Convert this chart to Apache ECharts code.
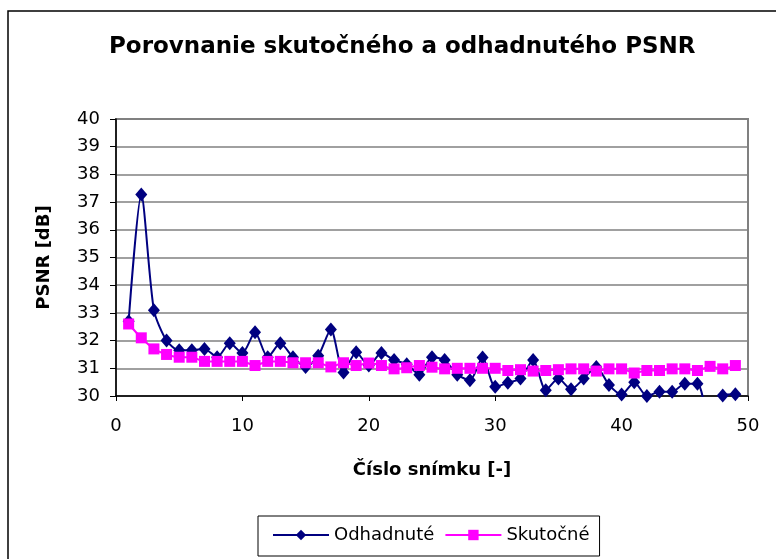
<!DOCTYPE html>
<html>
<head>
    <meta charset="UTF-8">
    <title>PSNR</title>
    <script src="https://cdn.jsdelivr.net/npm/echarts@6/dist/echarts.min.js"></script>
</head>
<body style="margin:0">
<div id="main" style="width:776px;height:559px"></div>
<script>
    var frames = [];
    for (var i = 1; i <= 49; i++) frames.push(i);

    var odhadnute = [32.7, 37.27, 33.1, 32.0, 31.65, 31.65, 31.7, 31.4, 31.9, 31.55,
        32.3, 31.4, 31.9, 31.4, 31.05, 31.45, 32.4, 30.85, 31.58, 31.1,
        31.55, 31.3, 31.15, 30.77, 31.4, 31.3, 30.77, 30.57, 31.39, 30.33,
        30.48, 30.63, 31.3, 30.21, 30.63, 30.24, 30.63, 31.05, 30.4, 30.05,
        30.5, 30.0, 30.15, 30.15, 30.44, 30.44, 29.0, 30.02, 30.06];

    var skutocne = [32.6, 32.1, 31.7, 31.5, 31.4, 31.4, 31.25, 31.25, 31.25, 31.25,
        31.1, 31.25, 31.25, 31.2, 31.2, 31.2, 31.05, 31.2, 31.1, 31.19,
        31.1, 30.98, 31.02, 31.1, 31.04, 30.98, 31.0, 31.0, 31.0, 31.0,
        30.92, 30.95, 30.9, 30.92, 30.95, 30.98, 30.98, 30.9, 30.98, 30.98,
        30.83, 30.92, 30.92, 30.98, 30.98, 30.92, 31.07, 30.98, 31.1];

    function pairs(vals) {
        return vals.map(function (v, i) { return [frames[i], v]; });
    }

    var font = 'DejaVu Sans, Liberation Sans, sans-serif';
    var myChart = echarts.init(document.getElementById('main'));

    var option = {
        backgroundColor: '#fff',
        animation: false,
        textStyle: { fontFamily: font },
        title: {
            text: 'Porovnanie skutočného a odhadnutého PSNR',
            left: 104,
            top: 31,
            textStyle: { fontSize: 23, fontWeight: 'bold', color: '#000', fontFamily: font }
        },
        graphic: [{
            type: 'rect',
            shape: { x: 8, y: 11, width: 800, height: 600 },
            style: { fill: 'none', stroke: '#000', lineWidth: 1.5 },
            z: -1
        }],
        grid: {
            left: 116, right: 28, top: 119, bottom: 163,
            show: true, borderColor: '#808080', borderWidth: 2
        },
        legend: {
            left: 258, top: 516,
            padding: [10, 10, 12, 14],
            borderColor: '#000', borderWidth: 1,
            itemWidth: 56, itemHeight: 13, itemGap: 10,
            textStyle: { fontSize: 18, color: '#000', fontFamily: font },
            data: ['Odhadnuté', 'Skutočné']
        },
        xAxis: {
            type: 'value', min: 0, max: 50, interval: 10,
            name: 'Číslo snímku [-]', nameLocation: 'middle', nameGap: 65,
            nameTextStyle: { fontSize: 18, fontWeight: 'bold', color: '#000', fontFamily: font },
            axisLine: { lineStyle: { color: '#000', width: 1.5 } },
            axisTick: { length: 5, lineStyle: { color: '#000' } },
            axisLabel: { fontSize: 18, color: '#000', margin: 21 },
            splitLine: { show: false }
        },
        yAxis: {
            type: 'value', min: 30, max: 40, interval: 1,
            name: 'PSNR [dB]', nameLocation: 'middle', nameGap: 63,
            nameTextStyle: { fontSize: 18, fontWeight: 'bold', color: '#000', fontFamily: font },
            axisLine: { show: true, lineStyle: { color: '#000', width: 1.5 } },
            axisTick: { show: true, length: 6, lineStyle: { color: '#000' } },
            axisLabel: { fontSize: 18, color: '#000', margin: 16 },
            splitLine: { lineStyle: { color: '#808080', width: 1.5 } }
        },
        series: [{
            name: 'Odhadnuté',
            type: 'line',
            smooth: 0.25,
            data: pairs(odhadnute),
            symbol: 'diamond',
            symbolSize: [12, 14],
            itemStyle: { color: '#000080' },
            lineStyle: { color: '#000080', width: 2 }
        }, {
            name: 'Skutočné',
            type: 'line',
            smooth: 0.25,
            data: pairs(skutocne),
            symbol: 'rect',
            symbolSize: 11,
            itemStyle: { color: '#FF00FF' },
            lineStyle: { color: '#FF00FF', width: 2 }
        }]
    };

    myChart.setOption(option);
</script>
</body>
</html>
